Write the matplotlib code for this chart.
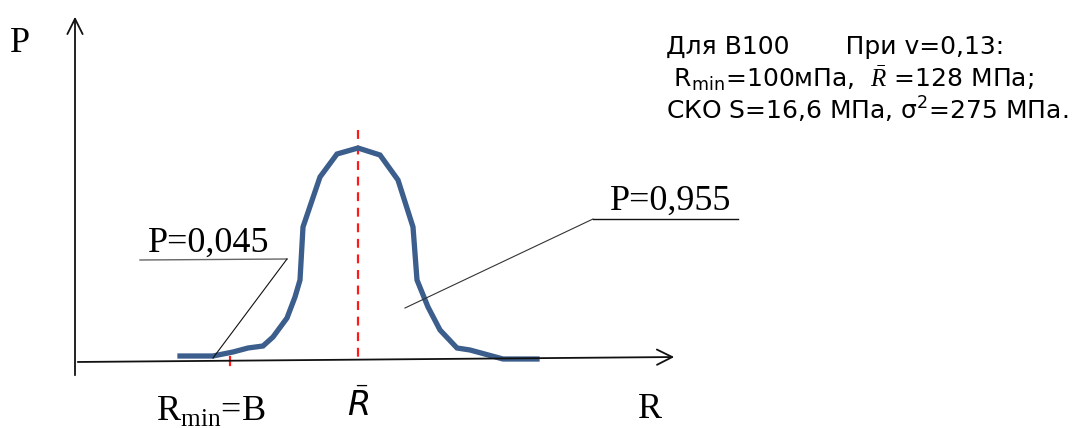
import matplotlib.pyplot as plt

plt.rcParams['mathtext.fontset'] = 'custom'
plt.rcParams['mathtext.rm'] = 'Liberation Serif'
plt.rcParams['mathtext.it'] = 'DejaVu Sans:italic'
plt.rcParams['mathtext.bf'] = 'Liberation Serif:italic'
plt.rcParams['mathtext.sf'] = 'DejaVu Sans'

# schematic: coordinates are in picture units (x to the right, y downward)
curve_r = [180, 213, 233, 248, 263, 273, 287, 295, 300, 303, 320, 337, 358,
           380, 398, 413, 417, 428, 440, 457, 470, 503, 537]
curve_p = [356, 356, 352, 348, 346, 337, 318, 297, 280, 227, 177, 154, 148,
           155, 180, 227, 280, 307, 330, 348, 350, 359, 359]

r_mean = 358
r_min = 230

info_lines = ["Для B100       При v=0,13:",
              r" R$_{\mathsf{min}}$=100мПа,  $\mathbf{\bar{R}}$ =128 МПа;",
              "СКО S=16,6 МПа, σ$^{\mathsf{2}}$=275 МПа."]

fig = plt.figure(figsize=(10.88, 4.28), dpi=100)
ax = fig.add_axes([0, 0, 1, 1])
ax.set_xlim(0, 1088)
ax.set_ylim(428, 0)
ax.axis('off')

serif = 'Liberation Serif'

# axes arrows
ax.annotate('', xy=(677, 357), xytext=(75, 362),
            arrowprops=dict(arrowstyle='->,head_length=1.1,head_width=0.55', lw=1.3, color='#111111'))
ax.annotate('', xy=(75, 14), xytext=(75, 378),
            arrowprops=dict(arrowstyle='->,head_length=1.1,head_width=0.55', lw=1.3, color='#111111'))

# mean and minimum
ax.plot([r_mean, r_mean], [130, 359], color='#ff1a1a', lw=1.6, ls=(0, (4, 3)))
ax.plot([r_min, r_min], [357, 365], color='#ff1a1a', lw=1.6)

# distribution curve
ax.plot(curve_r, curve_p, color='#3b5e8c', lw=3.8, solid_joinstyle='miter')

# leader lines
ax.plot([140, 287], [260, 259], color='#666666', lw=1.0)
ax.plot([287, 213], [259, 358], color='#111111', lw=0.8)
ax.plot([593, 738], [219, 219], color='#111111', lw=1.0)
ax.plot([593, 405], [219, 308], color='#333333', lw=0.8)

# labels
ax.text(20, 43, 'P', fontsize=26, family=serif, ha='center', va='center')
ax.text(650, 410, 'R', fontsize=26, family=serif, ha='center', va='center')
ax.text(209, 243, 'P=0,045', fontsize=26, family=serif, ha='center', va='center')
ax.text(671, 201, 'P=0,955', fontsize=26, family=serif, ha='center', va='center')
ax.text(211, 411, r'R$_{\mathrm{min}}$=B', fontsize=26, family=serif, ha='center', va='center')
ax.text(358, 406, r'$\bar{R}$', fontsize=24, ha='center', va='center')

for i, line in enumerate(info_lines):
    ax.text(666, 47 + 31.5 * i, line, fontsize=18, family='DejaVu Sans', ha='left', va='center')

fig.savefig('out.png', dpi=100)
